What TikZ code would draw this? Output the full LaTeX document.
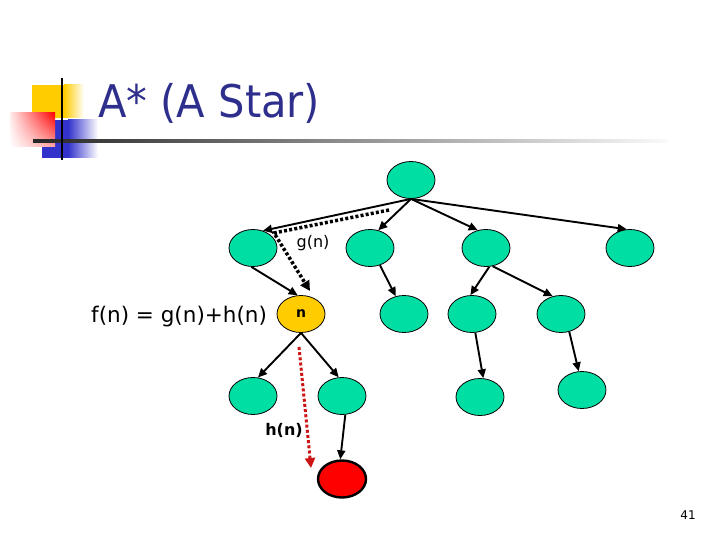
\documentclass[tikz,border=0pt]{standalone}
\usepackage{fontspec}
\setmainfont{DejaVu Sans}
\usetikzlibrary{shapes.geometric,arrows.meta,shadings}
\definecolor{nodegreen}{RGB}{0,222,164}
\definecolor{nyellow}{RGB}{255,204,0}
\definecolor{titleblue}{RGB}{46,46,140}
\definecolor{logoyellow}{RGB}{255,204,0}
\definecolor{logoblue}{RGB}{51,51,204}
\definecolor{dotred}{RGB}{205,20,20}
\begin{document}
\begin{tikzpicture}[x=1pt,y=-1pt,
  tnode/.style={ellipse, draw=black, line width=0.8pt, fill=nodegreen, minimum width=48pt, minimum height=37pt, inner sep=0pt},
  conn/.style={line width=1.9pt, -{Triangle[length=9pt,width=8pt]}},
  dotline/.style={line width=3.5pt, dash pattern=on 3pt off 2.2pt, -{Triangle[length=10pt,width=10pt]}},
  lbl/.style={inner sep=0pt}]
\useasboundingbox (0,0) rectangle (720,540);
% logo
\fill[logoyellow] (32,85) rectangle (64,118);
\shade[left color=logoyellow, right color=white] (64,85) rectangle (84,118);
\fill[logoblue] (42,120) rectangle (68,158);
\shade[left color=logoblue, right color=white] (68,120) rectangle (98,158);
\shade[upper left=red!8, upper right=red, lower left=white, lower right=red!35] (10,113) rectangle (55,147);
\shade[left color=black!85, right color=black!2] (33,139.8) rectangle (668,142.6);
\draw[line width=2.5pt] (62,78) -- (62,160);
% title
\node[lbl, anchor=base west, text=titleblue, font=\fontsize{45}{50}\selectfont] (title) at (98,118) {\scalebox{0.925}[1]{A* (A Star)}};
% nodes
\node[tnode] (root) at (411,180) {};
\node[tnode] (A) at (253,248) {};
\node[tnode] (B) at (370,248) {};
\node[tnode] (C) at (486,248) {};
\node[tnode] (D) at (630,248) {};
\node[tnode, fill=nyellow, font=\bfseries\fontsize{14}{16}\selectfont] (n) at (301,314) {n};
\node[tnode] (E) at (404,314) {};
\node[tnode] (F) at (472,314) {};
\node[tnode] (G) at (561,314) {};
\node[tnode] (L) at (253,396) {};
\node[tnode] (M) at (342,396) {};
\node[tnode] (J) at (480,397) {};
\node[tnode] (K) at (582,390) {};
\node[tnode, fill=red, line width=2.4pt] (R) at (342,479) {};
% connectors
\draw[conn] (root.south) -- (A.60);
\draw[conn] (root.south) -- (B.65);
\draw[conn] (root.south) -- (C.115);
\draw[conn] (root.south) -- (D.100);
\draw[conn] (A.265) -- (n.100);
\draw[conn] (B.-60) -- (E.115);
\draw[conn] (C.-80) -- (F.95);
\draw[conn] (C.-70) -- (G.115);
\draw[conn] (F.-80) -- (J.80);
\draw[conn] (G.-65) -- (K.100);
\draw[conn] (n.south) -- (L.75);
\draw[conn] (n.south) -- (M.100);
\draw[conn] (M.-80) -- (R.95);
% g(n) dotted path
\coordinate (g1) at (389,210);
\coordinate (g2) at (274,233);
\coordinate (g3) at (310,291);
\draw[dotline] (g1) -- (g2) -- (g3);
% h(n) dotted path
\coordinate (h1) at (299,347);
\coordinate (h2) at (311,468);
\draw[dotline, dotred, line width=3pt] (h1) -- (h2);
% labels
\node[lbl, font=\fontsize{16}{18}\selectfont] (glbl) at (313,243) {g(n)};
\node[lbl, anchor=base west, font=\fontsize{21.5}{24}\selectfont] (flbl) at (91,322) {f(n) = g(n)+h(n)};
\node[lbl, font=\bfseries\fontsize{16}{18}\selectfont] (hlbl) at (284,430) {h(n)};
\node[lbl, font=\fontsize{12}{14}\selectfont] (page) at (688,515) {41};
\end{tikzpicture}
\end{document}
